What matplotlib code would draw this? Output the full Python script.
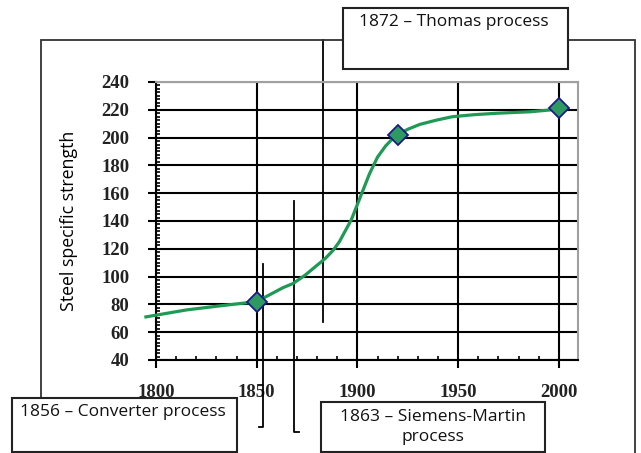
import matplotlib
matplotlib.use("Agg")
import matplotlib.pyplot as plt
from matplotlib.patches import Rectangle
from matplotlib.ticker import MultipleLocator

# curve
years = [1795, 1815, 1832, 1850, 1863, 1868, 1874, 1879, 1884, 1888, 1891, 1894,
         1897, 1900, 1903, 1906, 1910, 1914, 1917, 1920, 1925, 1931, 1939, 1947,
         1958, 1969, 1986, 2000]
strength = [71, 76, 79, 82, 92, 95, 101, 107, 113, 119, 125, 133,
            141, 152, 163, 174, 186, 194, 198.5, 202, 206, 209.5, 212.5, 215,
            216.5, 217.5, 218.6, 220.5]

# marked points
mark_years = [1850, 1920, 2000]
mark_values = [82, 202, 221]

x_ticks = [1800, 1850, 1900, 1950, 2000]
y_ticks = [40, 60, 80, 100, 120, 140, 160, 180, 200, 220, 240]

W, H = 641, 453
fig = plt.figure(figsize=(W / 100, H / 100), dpi=100)


def px(x0, y0, x1, y1):
    # pixel box -> figure fraction (left, bottom, width, height)
    return x0 / W, 1 - y1 / H, (x1 - x0) / W, (y1 - y0) / H


# outer frame
fl, fb, fw, fh = px(41, 40, 635, 470)
fig.add_artist(Rectangle((fl, fb), fw, fh, transform=fig.transFigure, fill=False,
                         edgecolor="#333333", lw=1.3, zorder=1))

ax = fig.add_axes(px(156, 82, 578, 360))
ax.set_xlim(1800, 2009.5)
ax.set_ylim(40, 240)

ax.set_xticks(x_ticks)
ax.set_yticks(y_ticks)
ax.xaxis.set_minor_locator(MultipleLocator(10))
ax.yaxis.set_minor_locator(MultipleLocator(2.5))
ax.tick_params(axis="both", which="major", direction="out", length=6,
               width=1.5, color="black")
ax.tick_params(axis="both", which="minor", direction="in", length=3,
               width=1.2, color="black")
ax.tick_params(axis="y", which="major", pad=13)
ax.tick_params(axis="x", which="major", pad=11)
for lab in ax.get_xticklabels() + ax.get_yticklabels():
    lab.set_fontfamily("Liberation Serif")
    lab.set_fontweight("bold")
    lab.set_fontsize(13.5)
    lab.set_color("#222222")

ax.grid(True, which="major", color="black", lw=1.5)
ax.set_axisbelow(True)
ax.spines["left"].set_linewidth(1.5)
ax.spines["bottom"].set_linewidth(1.5)
ax.spines["top"].set_color("#a0a0a0")
ax.spines["right"].set_color("#a0a0a0")
ax.spines["top"].set_linewidth(1.5)
ax.spines["right"].set_linewidth(1.5)

ax.set_ylabel("Steel specific strength", fontfamily="Open Sans",
              fontsize=12.8, labelpad=17)

ax.plot(years, strength, color="#1f9a55", lw=2.3, clip_on=False, zorder=3)
ax.plot(mark_years, mark_values, ls="none", marker="D", markersize=10,
        markerfacecolor="#2e9a62", markeredgecolor="#1a1a8a",
        markeredgewidth=1.3, clip_on=False, zorder=4)

# callout lines
ax.plot([1883, 1883], [270.5, 67.3], color="black", lw=1.3, clip_on=False, zorder=2)
ax.plot([1868.5, 1868.5, 1871], [154.4, -11.8, -11.8], color="black", lw=1.3,
        clip_on=False, zorder=2)
ax.plot([1853, 1853, 1851], [109, -8.2, -8.2], color="black", lw=1.3,
        clip_on=False, zorder=2)

# text boxes
boxes = [
    ((343, 8, 568, 69), "1872 – Thomas process", (359, 22), "left"),
    ((12, 398, 237, 452), "1856 – Converter process", (20, 412), "left"),
    ((321, 402, 545, 452), "1863 – Siemens-Martin\nprocess", (433, 427), "center"),
]
for (x0, y0, x1, y1), label, (tx, ty), ha in boxes:
    l, b, w, h = px(x0, y0, x1, y1)
    fig.add_artist(Rectangle((l, b), w, h, transform=fig.transFigure,
                             facecolor="white", edgecolor="#222222", lw=1.5,
                             zorder=5))
    fig.text(tx / W, 1 - ty / H, label, ha=ha, va="center",
             fontfamily="Open Sans", fontsize=12.5, color="#111111",
             linespacing=1.4, zorder=6)

fig.savefig("out.png", dpi=100)
